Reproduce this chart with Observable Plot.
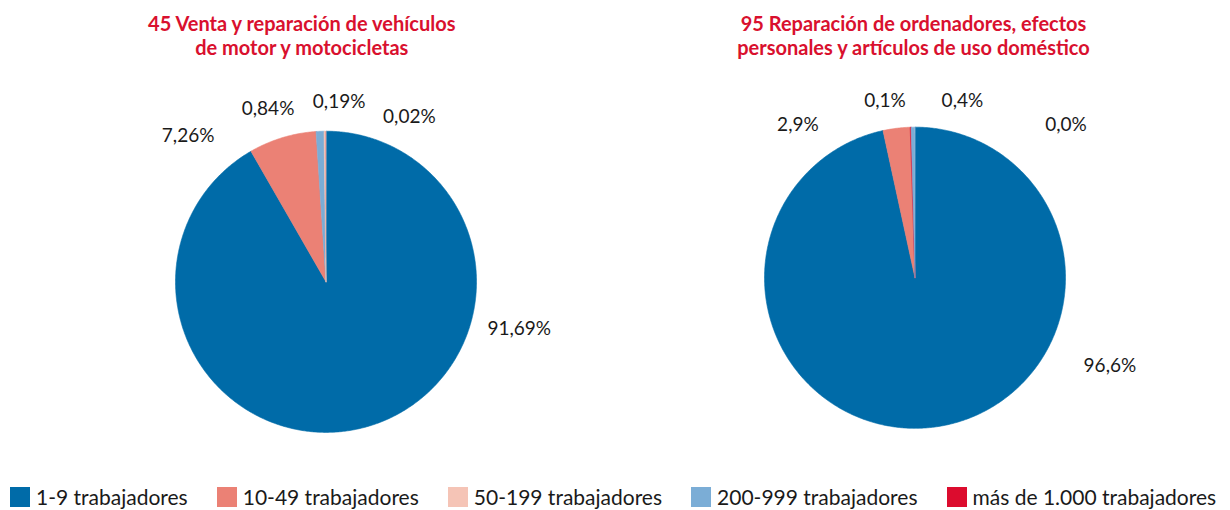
<!DOCTYPE html>
<html>
<head>
<meta charset="utf-8">
<script src="https://cdn.jsdelivr.net/npm/d3@7"></script>
<script src="https://cdn.jsdelivr.net/npm/@observablehq/plot@0.6"></script>
<style>
  html, body { margin: 0; padding: 0; background: #ffffff; }
  body { width: 1230px; height: 510px; position: relative; overflow: hidden; font-family: Lato, sans-serif; }
  #chart svg { display: block; }
  #legend { position: absolute; left: 10px; top: 480px; width: 1300px; white-space: nowrap; }
  .lg-swatches-wrap { flex-wrap: nowrap !important; }
  .lg-swatch { margin-right: 29px !important; }
  .lg-swatch > svg { margin-right: 6px !important; }
</style>
</head>
<body>
<div id="chart"></div>
<div id="legend"></div>
<script>
// ---------- DATA ----------
const categories = ["1-9 trabajadores", "10-49 trabajadores", "50-199 trabajadores", "200-999 trabajadores", "más de 1.000 trabajadores"];
const categoryColors = ["#006ba8", "#eb8175", "#f5c4b6", "#7badd6", "#dc0c2e"];

const pieNames = ["45", "95"];
const pieTitles = [
  "45 Venta y reparación de vehículos\nde motor y motocicletas",
  "95 Reparación de ordenadores, efectos\npersonales y artículos de uso doméstico"
];

// slices clockwise from 12 o'clock, as drawn in the reference
const pie1Categories = ["1-9 trabajadores", "10-49 trabajadores", "200-999 trabajadores", "50-199 trabajadores", "más de 1.000 trabajadores"];
const pie1Values = [91.69, 7.26, 0.84, 0.19, 0.02];
const pie1Decimals = 2;

const pie2Categories = ["1-9 trabajadores", "10-49 trabajadores", "más de 1.000 trabajadores", "200-999 trabajadores", "50-199 trabajadores"];
const pie2Values = [96.6, 2.9, 0.1, 0.4, 0.01];
const pie2Decimals = 1;

// ---------- LAYOUT ----------
const W = 1230, H = 475;
const pieShiftY = [0, 0.027];            // vertical shift of each pie, in radius units
const titleShiftX = [-0.161, -0.01];      // horizontal shift of each title, in radius units
// label anchor offsets from each pie's centre, in radius units
const labelOffsets = [
  [[1.284, -0.310], [-0.916, 0.968], [-0.385, 1.149], [0.087, 1.194], [0.554, 1.098]],
  [[1.295, -0.583], [-0.778, 1.013], [-0.199, 1.177], [0.315, 1.173], [1.003, 1.017]]
];
const minOutlinedValue = 0.05;            // slices smaller than this get no outline

// ---------- BUILD ----------
const pies = [
  {cats: pie1Categories, vals: pie1Values, dec: pie1Decimals},
  {cats: pie2Categories, vals: pie2Values, dec: pie2Decimals}
];

const slicePoints = [];
const labels = [];
pies.forEach((p, pi) => {
  const arcs = d3.pie().sort(null).value(d => d)(p.vals);
  const shift = pieShiftY[pi];
  arcs.forEach((a, i) => {
    const key = pieNames[pi] + "-" + i;
    const cat = p.cats[i];
    const outline = p.vals[i] >= minOutlinedValue ? 1 : 0;
    slicePoints.push({pie: pieNames[pi], key, cat, outline, x: 0, y: shift});
    const n = Math.max(2, Math.ceil((a.endAngle - a.startAngle) / (Math.PI / 360)));
    for (let k = 0; k <= n; k++) {
      const t = a.startAngle + (a.endAngle - a.startAngle) * k / n;
      slicePoints.push({pie: pieNames[pi], key, cat, outline, x: Math.sin(t), y: Math.cos(t) + shift});
    }
    const off = labelOffsets[pi][i];
    labels.push({
      pie: pieNames[pi],
      x: off[0],
      y: off[1] + shift,
      text: p.vals[i].toFixed(p.dec).replace(".", ",") + "%"
    });
  });
});

const titles = pieNames.map((name, i) => ({pie: name, x: titleShiftX[i], text: pieTitles[i]}));

const chart = Plot.plot({
  width: W,
  height: H,
  marginLeft: 174.1,
  marginRight: 164.9,
  marginTop: 130.7,
  marginBottom: 43.1,
  style: {fontFamily: "Lato, sans-serif", background: "#ffffff", overflow: "visible"},
  fx: {domain: pieNames, paddingInner: 0.4893, paddingOuter: 0, axis: null, label: null},
  x: {domain: [-1, 1], axis: null},
  y: {domain: [-1, 1], axis: null},
  color: {domain: categories, range: categoryColors},
  marks: [
    Plot.line(slicePoints, {
      fx: "pie", x: "x", y: "y", z: "key", fill: "cat", stroke: "cat",
      strokeOpacity: "outline", strokeWidth: 0.6, curve: "linear-closed"
    }),
    Plot.text(labels, {fx: "pie", x: "x", y: "y", text: "text", fontSize: 19, fill: "#1a1a1a", fontFamily: "Lato"}),
    Plot.text(titles, {
      fx: "pie", x: "x", text: "text", frameAnchor: "top", lineAnchor: "top", dy: -117.5,
      fill: "#d9102e", fontWeight: 700, fontSize: 20, lineHeight: 1.22, fontFamily: "Lato"
    })
  ]
});
document.getElementById("chart").appendChild(chart);

const legend = Plot.legend({
  color: {domain: categories, range: categoryColors},
  legend: "swatches",
  swatchWidth: 20,
  swatchHeight: 20,
  className: "lg",
  style: {fontFamily: "Lato, sans-serif", fontSize: "21px", color: "#1a1a1a", marginBottom: "0"}
});
document.getElementById("legend").appendChild(legend);
</script>
</body>
</html>
